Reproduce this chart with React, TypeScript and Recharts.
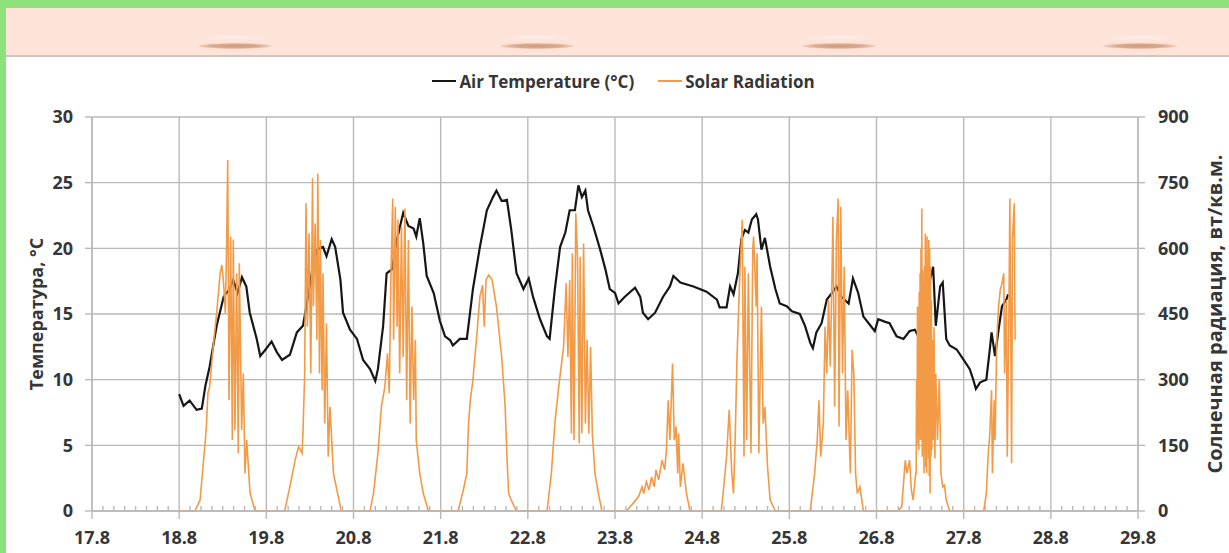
import React from "react";
import {
  ComposedChart,
  Line,
  Scatter,
  XAxis,
  YAxis,
  CartesianGrid,
  Legend,
} from "recharts";

// time axis is in days (day-of-month with fraction)
const xTicks = [17.8, 18.8, 19.8, 20.8, 21.8, 22.8, 23.8, 24.8, 25.8, 26.8, 27.8, 28.8, 29.8];
const tempTicks = [0, 5, 10, 15, 20, 25, 30];
const solarTicks = [0, 150, 300, 450, 600, 750, 900];

const tempDays = [
  18.8, 18.85, 18.92, 19.0, 19.06, 19.1, 19.15, 19.23, 19.31, 19.38, 19.42, 19.47, 19.52, 19.57, 19.61,
  19.69, 19.73, 19.78, 19.86, 19.92, 19.98, 20.07, 20.15, 20.22, 20.26, 20.34, 20.38, 20.45, 20.49, 20.55,
  20.59, 20.65, 20.68, 20.76, 20.84, 20.91, 20.99, 21.05, 21.08, 21.14, 21.18, 21.24, 21.3, 21.37, 21.43,
  21.49, 21.52, 21.56, 21.6, 21.64, 21.72, 21.79, 21.85, 21.91, 21.94, 22.02, 22.1, 22.17, 22.25, 22.33,
  22.4, 22.44, 22.5, 22.56, 22.61, 22.67, 22.75, 22.81, 22.86, 22.94, 23.02, 23.05, 23.11, 23.17, 23.23,
  23.28, 23.34, 23.38, 23.42, 23.46, 23.49, 23.55, 23.63, 23.69, 23.74, 23.8, 23.84, 23.91, 24.03, 24.09,
  24.12, 24.18, 24.26, 24.35, 24.43, 24.47, 24.55, 24.7, 24.85, 24.97, 25.0, 25.08, 25.12, 25.16, 25.21,
  25.25, 25.29, 25.33, 25.37, 25.42, 25.44, 25.48, 25.52, 25.58, 25.64, 25.69, 25.77, 25.83, 25.92, 25.98,
  26.04, 26.07, 26.11, 26.17, 26.23, 26.29, 26.34, 26.4, 26.48, 26.53, 26.59, 26.65, 26.71, 26.78, 26.82,
  26.9, 26.95, 27.03, 27.11, 27.18, 27.24, 27.28, 27.36, 27.41, 27.45, 27.48, 27.53, 27.56, 27.6, 27.64,
  27.72, 27.8, 27.87, 27.91, 27.94, 27.99, 28.06, 28.1, 28.12, 28.16, 28.2, 28.24, 28.29, 28.31,
];
const tempValues = [
  8.9, 8.0, 8.4, 7.7, 7.8, 9.5, 11.0, 14.1, 16.3, 16.9, 17.6, 16.6, 17.8, 17.1, 15.1,
  13.1, 11.8, 12.2, 12.9, 12.1, 11.5, 11.9, 13.6, 14.1, 15.6, 18.9, 19.9, 20.1, 19.4, 20.7,
  20.1, 17.6, 15.1, 13.8, 13.1, 11.5, 10.8, 9.9, 10.8, 14.1, 18.1, 18.4, 20.7, 22.7, 21.7,
  21.5, 20.9, 22.3, 20.4, 17.9, 16.6, 14.5, 13.3, 13.0, 12.6, 13.1, 13.1, 16.9, 20.1, 22.9,
  23.9, 24.4, 23.6, 23.7, 21.4, 18.1, 16.9, 17.7, 16.3, 14.6, 13.3, 13.1, 16.9, 20.1, 21.2,
  22.9, 22.9, 24.8, 23.9, 24.4, 22.9, 21.7, 19.9, 18.4, 16.9, 16.6, 15.8, 16.3, 17.0, 16.3,
  15.1, 14.6, 15.1, 16.3, 17.1, 17.9, 17.4, 17.1, 16.7, 16.1, 15.5, 15.5, 17.1, 16.5, 18.1,
  20.7, 21.4, 21.2, 22.2, 22.6, 22.2, 19.9, 20.8, 18.6, 16.9, 15.8, 15.6, 15.2, 15.0, 14.1,
  12.8, 12.4, 13.6, 14.3, 16.1, 16.6, 17.1, 16.3, 15.8, 17.7, 16.6, 14.8, 14.3, 13.7, 14.6,
  14.4, 14.3, 13.3, 13.1, 13.7, 13.8, 13.3, 15.5, 17.5, 18.6, 14.1, 17.1, 17.4, 13.1, 12.6,
  12.3, 11.5, 10.8, 10.0, 9.3, 9.8, 10.0, 12.3, 13.6, 11.8, 13.8, 15.6, 16.1, 16.5,
];

const solarDays = [
  18.8,
  18.98, 19.04, 19.08, 19.11, 19.13, 19.15, 19.19, 19.23, 19.27, 19.29, 19.31, 19.33, 19.345, 19.357,
  19.372, 19.391, 19.41, 19.421, 19.44, 19.46, 19.478, 19.49, 19.517, 19.536, 19.555, 19.575, 19.613, 19.67,
  20.01, 20.07, 20.13, 20.17, 20.21, 20.22, 20.24, 20.255, 20.27, 20.29, 20.31, 20.33, 20.34, 20.36,
  20.38, 20.39, 20.41, 20.42, 20.44, 20.45, 20.47, 20.49, 20.51, 20.53, 20.57, 20.61, 20.66,
  20.99, 21.03, 21.08, 21.12, 21.16, 21.19, 21.21, 21.23, 21.25, 21.26, 21.28, 21.3, 21.31, 21.33,
  21.35, 21.37, 21.39, 21.41, 21.43, 21.45, 21.47, 21.49, 21.51, 21.52, 21.56, 21.6, 21.66,
  22.0, 22.06, 22.1, 22.12, 22.14, 22.17, 22.21, 22.25, 22.28, 22.3, 22.32, 22.35, 22.39, 22.44,
  22.5, 22.54, 22.56, 22.58, 22.61, 22.67,
  23.02, 23.07, 23.11, 23.15, 23.21, 23.24, 23.26, 23.28, 23.3, 23.31, 23.33, 23.35, 23.37, 23.39,
  23.4, 23.42, 23.44, 23.46, 23.48, 23.5, 23.52, 23.54, 23.57, 23.61, 23.65,
  23.93, 24.01, 24.07, 24.11, 24.13, 24.16, 24.19, 24.22, 24.25, 24.27, 24.3, 24.34, 24.37, 24.39,
  24.41, 24.43, 24.46, 24.48, 24.5, 24.52, 24.53, 24.55, 24.58, 24.62, 24.66,
  25.02, 25.04, 25.08, 25.11, 25.14, 25.16, 25.18, 25.2, 25.23, 25.25, 25.26, 25.28, 25.29, 25.31,
  25.33, 25.36, 25.38, 25.39, 25.42, 25.43, 25.45, 25.48, 25.5, 25.52, 25.55, 25.58, 25.64,
  26.04, 26.09, 26.12, 26.14, 26.16, 26.19, 26.21, 26.23, 26.25, 26.27, 26.29, 26.3, 26.32, 26.34,
  26.36, 26.37, 26.39, 26.41, 26.43, 26.45, 26.47, 26.5, 26.52, 26.54, 26.56, 26.58, 26.61, 26.65,
  27.05, 27.09, 27.13, 27.15, 27.18, 27.2, 27.22, 27.25, 27.255, 27.26, 27.265, 27.27, 27.275, 27.28,
  27.285, 27.29, 27.295, 27.3, 27.305, 27.31, 27.315, 27.32, 27.325, 27.33, 27.335, 27.34, 27.345, 27.35,
  27.355, 27.36, 27.365, 27.37, 27.375, 27.38, 27.385, 27.39, 27.395, 27.4, 27.405, 27.41, 27.415, 27.42,
  27.425, 27.43, 27.435, 27.44, 27.45, 27.46, 27.47, 27.48, 27.5, 27.52, 27.54, 27.56, 27.58, 27.6, 27.64,
  28.03, 28.06, 28.08, 28.1, 28.12, 28.13, 28.15, 28.16, 28.18, 28.2, 28.22, 28.24, 28.26, 28.27,
  28.29, 28.3, 28.32, 28.33, 28.35, 28.36, 28.38, 28.39,
];
const solarValues = [
  0,
  0, 25, 116, 185, 270, 284, 375, 452, 543, 562, 520, 452, 619, 802,
  253, 627, 162, 620, 185, 543, 132, 566, 185, 314, 86, 162, 41, 0,
  0, 55, 116, 147, 132, 177, 314, 703, 421, 634, 314, 760, 467, 657,
  391, 771, 314, 619, 276, 543, 200, 429, 124, 238, 86, 48, 0,
  0, 41, 132, 238, 284, 360, 269, 543, 714, 391, 695, 421, 665, 314,
  649, 352, 691, 253, 619, 200, 467, 253, 391, 162, 86, 41, 0,
  0, 48, 86, 200, 253, 299, 391, 489, 516, 421, 528, 539, 528, 467,
  352, 238, 124, 40, 25, 0,
  0, 86, 200, 276, 375, 520, 352, 528, 177, 589, 162, 680, 581, 155,
  581, 177, 611, 200, 391, 177, 375, 177, 86, 40, 0,
  0, 18, 33, 55, 40, 67, 48, 78, 55, 94, 71, 116, 94, 139,
  253, 162, 337, 162, 193, 86, 177, 55, 109, 40, 0,
  0, 40, 124, 231, 86, 40, 177, 352, 528, 619, 665, 124, 558, 162,
  543, 132, 596, 627, 467, 589, 132, 467, 200, 238, 101, 25, 0,
  0, 86, 162, 253, 124, 200, 421, 314, 482, 330, 543, 672, 238, 619,
  714, 193, 695, 314, 558, 162, 276, 86, 368, 314, 86, 40, 55, 0,
  0, 10, 116, 86, 116, 48, 25, 86, 86, 300, 150, 467, 180, 430,
  139, 500, 170, 543, 162, 600, 200, 691, 124, 550, 160, 520, 86, 560,
  140, 634, 100, 590, 86, 627, 162, 540, 120, 619, 80, 600, 40, 558,
  124, 480, 140, 391, 162, 420, 120, 314, 162, 300, 86, 55, 59, 25, 0,
  0, 40, 124, 177, 276, 86, 253, 162, 391, 467, 505, 520, 543, 314,
  482, 124, 467, 714, 109, 619, 703, 391,
];

const tempData = tempDays.map((d, i) => ({ d, temp: tempValues[i] }));
const solarData = solarDays.map((d, i) => ({ d, solar: solarValues[i] }));

// small 3-hour marks along the time axis, between the labelled ticks
const minorMarks = xTicks.slice(0, -1).flatMap((t) =>
  [1, 2, 3, 4, 5, 6, 7].map((k) => ({ d: +(t + k / 8).toFixed(3), base: 0 }))
);

const GRID = "#b9b9b9";
const TEXT = "#363636";
const FONT = "'Open Sans', sans-serif";
const TEMP_COLOR = "#161616";
const SOLAR_COLOR = "#f39a47";

const tickStyle = { fill: TEXT, fontSize: 18, fontWeight: 700, fontFamily: FONT };

function LegendBox() {
  const item = (color: string, text: string) => (
    <span style={{ display: "inline-flex", alignItems: "center", margin: "0 12px" }}>
      <span style={{ display: "inline-block", width: 24, height: 2, background: color, marginRight: 3 }} />
      <span>{text}</span>
    </span>
  );
  return (
    <div
      style={{
        display: "flex",
        justifyContent: "center",
        alignItems: "center",
        height: 20,
        paddingLeft: 12,
        fontFamily: FONT,
        fontSize: 17,
        fontWeight: 700,
        color: TEXT,
      }}
    >
      {item(TEMP_COLOR, "Air Temperature (°C)")}
      {item(SOLAR_COLOR, "Solar Radiation")}
    </div>
  );
}

function MinorMark(props: any) {
  const { cx, cy } = props;
  if (cx == null || cy == null) return null;
  return <line x1={cx} x2={cx} y1={cy} y2={cy - 5} stroke={GRID} strokeWidth={1.4} />;
}

export default function App() {
  const ellipses = [229, 531, 833, 1134];
  return (
    <div
      style={{
        position: "fixed",
        left: 0,
        top: 0,
        width: 1229,
        height: 553,
        background: "#8de27d",
        overflow: "hidden",
      }}
    >
      <div style={{ position: "absolute", left: 6, top: 8, right: 0, bottom: 0, background: "#fff" }}>
        <div
          style={{
            position: "relative",
            height: 47,
            background: "#fde3d8",
            borderBottom: "2px solid #cdc6c3",
          }}
        >
          {ellipses.map((x) => (
            <React.Fragment key={x}>
              <div
                style={{
                  position: "absolute",
                  left: x - 36,
                  top: 26,
                  width: 72,
                  height: 7,
                  borderRadius: "50%",
                  background: "radial-gradient(ellipse at center, #fbeee9 0%, rgba(251,238,233,0) 75%)",
                }}
              />
              <div
                style={{
                  position: "absolute",
                  left: x - 37,
                  top: 35,
                  width: 74,
                  height: 6,
                  borderRadius: "50%",
                  background: "radial-gradient(ellipse at center, #d39a7c 0%, #dba98f 45%, rgba(224,178,155,0) 80%)",
                }}
              />
            </React.Fragment>
          ))}
        </div>

        <ComposedChart width={1223} height={496} margin={{ top: 60, right: 0, bottom: 0, left: 0 }}>
          <CartesianGrid yAxisId="left" stroke={GRID} strokeWidth={1.4} />
          <XAxis
            dataKey="d"
            type="number"
            domain={[17.8, 29.8]}
            ticks={xTicks}
            interval={0}
            height={42}
            tickSize={8}
            tickMargin={12}
            stroke={GRID}
            strokeWidth={1.4}
            tick={tickStyle}
            tickFormatter={(v: number) => v.toFixed(1)}
          />
          <YAxis
            yAxisId="left"
            domain={[0, 30]}
            ticks={tempTicks}
            interval={0}
            width={86}
            tickSize={7}
            tickMargin={12}
            stroke={GRID}
            strokeWidth={1.4}
            tick={tickStyle}
            label={{
              value: "Температура, °С",
              angle: -90,
              position: "insideLeft",
              offset: 31,
              style: { textAnchor: "middle", fill: TEXT, fontSize: 18, fontWeight: 700, fontFamily: FONT },
            }}
          />
          <YAxis
            yAxisId="right"
            orientation="right"
            domain={[0, 900]}
            ticks={solarTicks}
            interval={0}
            width={91}
            tickSize={7}
            tickMargin={13}
            stroke={GRID}
            strokeWidth={1.4}
            tick={{ ...tickStyle, textAnchor: "start" }}
            label={{
              value: "Солнечная радиация, вт/кв.м.",
              angle: -90,
              position: "insideRight",
              offset: 14,
              style: { textAnchor: "middle", fill: TEXT, fontSize: 20, fontWeight: 700, fontFamily: FONT },
            }}
          />
          <Legend
            verticalAlign="middle"
            align="center"
            content={() => <LegendBox />}
            wrapperStyle={{ top: 14, left: 0, width: 1223, height: 20 }}
          />
          <Scatter
            yAxisId="left"
            data={minorMarks}
            dataKey="base"
            shape={<MinorMark />}
            isAnimationActive={false}
            legendType="none"
          />
          <Line
            yAxisId="left"
            data={tempData}
            dataKey="temp"
            type="linear"
            stroke={TEMP_COLOR}
            strokeWidth={2.2}
            dot={false}
            isAnimationActive={false}
          />
          <Line
            yAxisId="right"
            data={solarData}
            dataKey="solar"
            type="linear"
            stroke={SOLAR_COLOR}
            strokeWidth={1.6}
            dot={false}
            isAnimationActive={false}
          />
        </ComposedChart>
      </div>
    </div>
  );
}
